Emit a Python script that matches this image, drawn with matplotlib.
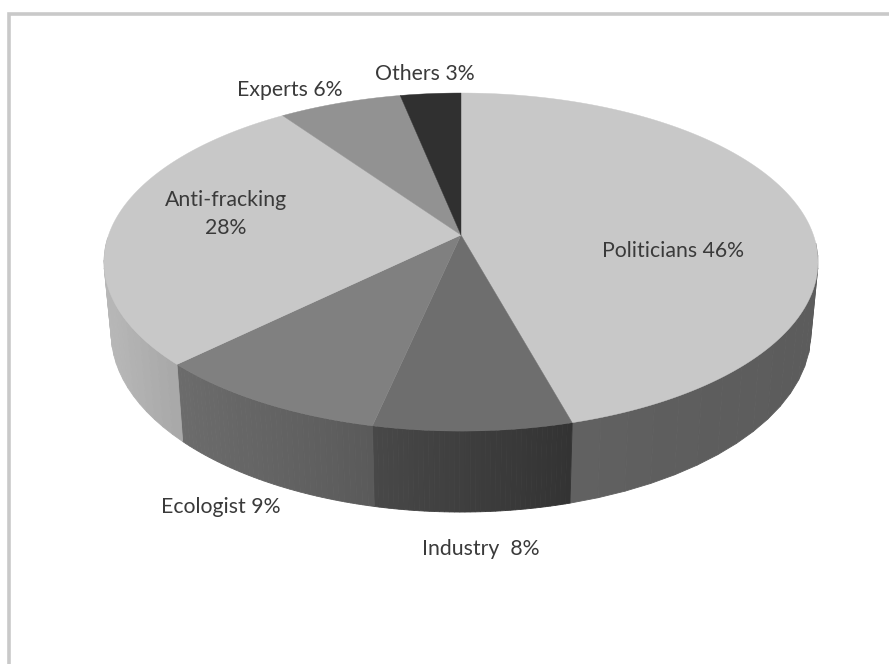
import numpy as np
import matplotlib
matplotlib.use('Agg')
import matplotlib.pyplot as plt

# slice shares, clockwise from the top
names = ['Politicians', 'Industry', 'Ecologist', 'Anti-fracking', 'Experts', 'Others']
shares = [45.7, 7.7, 9.3, 27.6, 6.5, 3.2]
labels = ['Politicians 46%', 'Industry  8%', 'Ecologist 9%', 'Anti-fracking\n28%', 'Experts 6%', 'Others 3%']

top_colors = ['#c8c8c8', '#6e6e6e', '#808080', '#c8c8c8', '#929292', '#303030']
# wall grey at left and right end of each slice
wall_left = [0x66, 0x48, 0x6c, 0xb8, 0x80, 0x20]
wall_right = [0x5c, 0x33, 0x5a, 0xa8, 0x80, 0x20]
label_pos = [(673, 251), (481, 549), (221, 507), (226, 214), (290, 90), (425, 74)]

# pie geometry in pixels
cx, cy = 461, 235
rx, ry = 352.4, 164.7
k = 0.16          # perspective, far side is smaller
drop = 69.4       # wall height at the centre
low_x = 0.98      # lower rim is a bit narrower
low_y = 1.059     # and a bit rounder


def rim(theta, sx=1.0, sy=1.0, dy=0):
    u, v = np.sin(theta), np.cos(theta)
    w = 1 + k * v
    return cx + sx * rx * u / w, cy + dy - sy * ry * v / w


fig = plt.figure(figsize=(8.89, 6.64), dpi=100)
ax = fig.add_axes([0, 0, 1, 1])
ax.set_xlim(0, 889)
ax.set_ylim(664, 0)
ax.axis('off')

# frame, only top and left show
ax.plot([9, 9, 889], [664, 13.5, 13.5], color='#c9c9c9', lw=2.6, solid_joinstyle='miter')

edges = np.radians(np.cumsum([0] + shares) * 3.6)

# walls as thin strips, front half only, left to right inside each slice
for i in range(len(shares)):
    t = np.linspace(edges[i], edges[i + 1], 40)
    t = t[np.cos(t) < 0]
    if len(t) < 2:
        continue
    x0, _ = rim(t)
    lo, hi = x0.min(), x0.max()
    if x0[0] > x0[-1]:
        t = t[::-1]
    for j in range(len(t) - 1):
        xa, ya = rim(t[j:j + 2])
        xb, yb = rim(t[j:j + 2], low_x, low_y, drop)
        frac = (xa.mean() - lo) / max(hi - lo, 1)
        if i == 0:
            frac = frac ** 0.25  # politicians wall settles quickly
        g = (wall_left[i] + (wall_right[i] - wall_left[i]) * frac) / 255
        ax.fill(np.r_[xa, xb[::-1]], np.r_[ya, yb[::-1]], color=(g, g, g), lw=0.6)

# top face
for i in range(len(shares)):
    t = np.linspace(edges[i], edges[i + 1], 200)
    x, y = rim(t)
    ax.fill(np.r_[cx, x], np.r_[cy, y], color=top_colors[i], lw=0.3)

for txt, (lx, ly) in zip(labels, label_pos):
    ax.text(lx, ly, txt, ha='center', va='center', family='Lato', fontsize=15.3,
            color='#3a3a3a', linespacing=1.55)

fig.savefig('out.png', dpi=100)
